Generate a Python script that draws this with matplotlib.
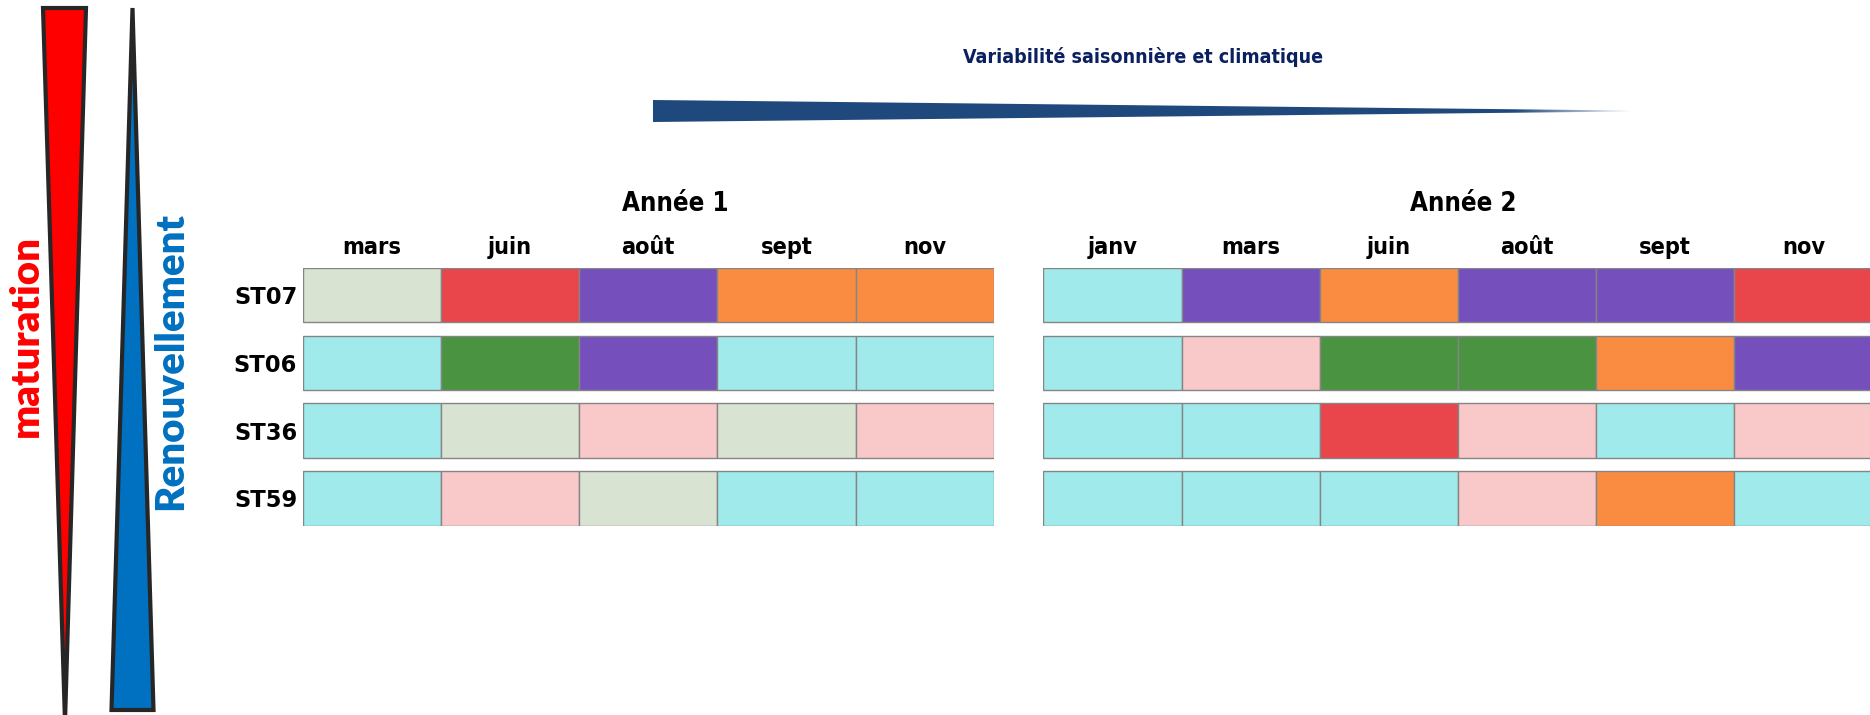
import numpy as np
import matplotlib
matplotlib.use("Agg")
import matplotlib.pyplot as plt
from matplotlib.patches import Polygon
from matplotlib.transforms import blended_transform_factory

# ---------------- data ----------------
stations = ["ST07", "ST06", "ST36", "ST59"]

months_y1 = ["mars", "juin", "août", "sept", "nov"]
months_y2 = ["janv", "mars", "juin", "août", "sept", "nov"]

# category codes per station (rows) and sampling date (columns)
# G = vert pâle, R = rouge, P = violet, O = orange, C = cyan, V = vert, K = rose
year1_ST07 = ["G", "R", "P", "O", "O"]
year1_ST06 = ["C", "V", "P", "C", "C"]
year1_ST36 = ["C", "G", "K", "G", "K"]
year1_ST59 = ["C", "K", "G", "C", "C"]

year2_ST07 = ["C", "P", "O", "P", "P", "R"]
year2_ST06 = ["C", "K", "V", "V", "O", "P"]
year2_ST36 = ["C", "C", "R", "K", "C", "K"]
year2_ST59 = ["C", "C", "C", "K", "O", "C"]

year_titles = ["Année 1", "Année 2"]
main_title = "Variabilité saisonnière et climatique"
left_labels = ["maturation", "Renouvellement"]

# ---------------- style ----------------
palette = {
    "G": "#D8E3D2",
    "R": "#E8464A",
    "P": "#7550BD",
    "O": "#FA8C41",
    "C": "#A1EAEC",
    "V": "#4A9341",
    "K": "#F9C8C8",
}
EDGE = "#858585"
CELL_H = 0.803

W, H = 1870, 715
fig = plt.figure(figsize=(W / 100, H / 100), dpi=100)


def fx(px):
    return px / W


def fy(py):
    return 1 - py / H


grid_top, grid_bottom = 267.7, 525.7
col_w = 138.2
ax1 = fig.add_axes([fx(302.7), fy(grid_bottom), fx(5 * col_w), (grid_bottom - grid_top) / H])
ax2 = fig.add_axes([fx(1043.3), fy(grid_bottom), fx(6 * col_w), (grid_bottom - grid_top) / H])

HEAD_FONT = dict(family="DejaVu Sans", weight="bold", stretch="condensed")


def draw_year(ax, months, rows, title, title_x):
    for r, codes in enumerate(rows):
        cols = np.arange(len(codes))
        ax.barh([r] * len(codes), [1] * len(codes), left=cols, height=CELL_H,
                align="center", color=[palette[c] for c in codes],
                edgecolor=EDGE, linewidth=1.0)
    ax.set_xlim(0, len(months))
    ax.set_ylim(len(rows) - 1 + CELL_H / 2, -CELL_H / 2)
    for s in ax.spines.values():
        s.set_visible(False)
    ax.set_xticks([])
    ax.set_yticks([])
    tr = blended_transform_factory(ax.transData, ax.transAxes)
    for i, m in enumerate(months):
        ax.text(i + 0.5, 1.080, m, transform=tr, ha="center", va="center",
                fontsize=16.8, **HEAD_FONT)
    ax.text(title_x, 1.247, title, transform=ax.transAxes, ha="center",
            va="center", fontsize=18.5, **HEAD_FONT)


draw_year(ax1, months_y1, [year1_ST07, year1_ST06, year1_ST36, year1_ST59],
          year_titles[0], 0.539)
draw_year(ax2, months_y2, [year2_ST07, year2_ST06, year2_ST36, year2_ST59],
          year_titles[1], 0.507)

ax1.set_yticks(range(len(stations)))
ax1.set_yticklabels(stations, fontsize=16.3, fontweight="bold", family="DejaVu Sans")
ax1.tick_params(axis="y", length=0, pad=4)

# ---------------- overlay: title, wedge, triangles ----------------
fig.text(fx(1143), fy(57), main_title, ha="center", va="center",
         fontsize=14, fontweight="bold", fontstretch="condensed", color="#0B2060",
         family="DejaVu Sans")

# wedge (seasonal/climatic variability)
axw = fig.add_axes([fx(653), fy(122), fx(1634 - 653), 22 / H])
axw.set_xlim(0, 1)
axw.set_ylim(0, 1)
axw.axis("off")
wedge = Polygon([(0, 1), (1, 0.52), (1, 0.48), (0, 0)], closed=True,
                transform=axw.transAxes, facecolor="none", edgecolor="none")
axw.add_patch(wedge)
navy = matplotlib.colors.to_rgb("#1F497D")
xs = np.linspace(0, 1, 800)
alpha = np.clip((1.0 - xs) / 0.12, 0, 1)
img = np.zeros((2, xs.size, 4))
img[..., :3] = navy
img[..., 3] = alpha
im = axw.imshow(img, extent=[0, 1, 0, 1], aspect="auto", interpolation="bilinear")
im.set_clip_path(wedge)

# left triangles
axo = fig.add_axes([0, 0, 1, 1], zorder=-1)
axo.set_xlim(0, W)
axo.set_ylim(H, 0)
axo.axis("off")
red_tri = [(43, 8), (86, 8), (65, 722)]
blue_tri = [(132.5, 8), (111.5, 710), (153.5, 710)]
axo.add_patch(Polygon(red_tri, closed=True, facecolor="#FF0000",
                      edgecolor="#262626", linewidth=3, joinstyle="miter"))
axo.add_patch(Polygon(blue_tri, closed=True, facecolor="#0070C0",
                      edgecolor="#262626", linewidth=3, joinstyle="miter"))
axo.text(26.5, 336, left_labels[0], rotation=90, ha="center", va="center",
         fontsize=29, fontweight="heavy", color="#FF0000", family="Lato")
axo.text(171, 361, left_labels[1], rotation=90, ha="center", va="center",
         fontsize=29, fontweight="heavy", color="#0070C0", family="Lato")

fig.savefig("out.png", dpi=100)
